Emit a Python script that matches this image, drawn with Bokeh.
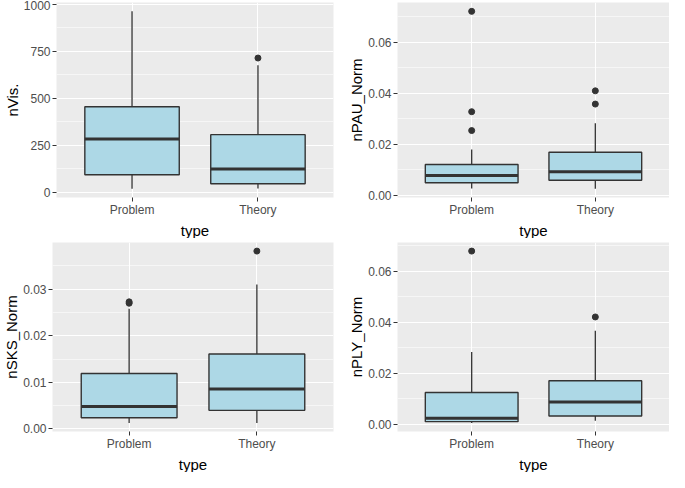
from bokeh.plotting import figure
from bokeh.layouts import row, column
from bokeh.models import (FactorRange, Range1d, FixedTicker, ColumnDataSource,
                          CustomJSTickFormatter, Title)
from bokeh.transform import dodge
from bokeh.embed import file_html
from bokeh.resources import INLINE

cats = ["Problem", "Theory"]
x_title = "type"

nvis_lower = [19, 20]
nvis_q1 = [93, 45]
nvis_median = [283, 123]
nvis_q3 = [454, 306]
nvis_upper = [961, 674]
nvis_out_type = ["Theory"]
nvis_out = [713]
nvis_ticks = [0, 250, 500, 750, 1000]
nvis_minor = [125, 375, 625, 875]

pau_lower = [0.0026, 0.0025]
pau_q1 = [0.0048, 0.0058]
pau_median = [0.0077, 0.0091]
pau_q3 = [0.0120, 0.0168]
pau_upper = [0.0179, 0.0282]
pau_out_type = ["Problem", "Problem", "Problem", "Theory", "Theory"]
pau_out = [0.0253, 0.0327, 0.0721, 0.0357, 0.0409]
pau_ticks = [0.0, 0.02, 0.04, 0.06]
pau_minor = [0.01, 0.03, 0.05, 0.07]

sks_lower = [0.0013, 0.0013]
sks_q1 = [0.0024, 0.0040]
sks_median = [0.0048, 0.0086]
sks_q3 = [0.0119, 0.0161]
sks_upper = [0.0258, 0.0310]
sks_out_type = ["Problem", "Problem", "Theory"]
sks_out = [0.0270, 0.0273, 0.0382]
sks_ticks = [0.0, 0.01, 0.02, 0.03]
sks_minor = [0.005, 0.015, 0.025, 0.035]

ply_lower = [0.0006, 0.0014]
ply_q1 = [0.0011, 0.0033]
ply_median = [0.0024, 0.0088]
ply_q3 = [0.0125, 0.0171]
ply_upper = [0.0284, 0.0367]
ply_out_type = ["Problem", "Theory"]
ply_out = [0.0679, 0.0421]
ply_ticks = [0.0, 0.02, 0.04, 0.06]
ply_minor = [0.01, 0.03, 0.05, 0.07]

FONT = "Liberation Sans"
DARK = "#333333"


def panel(ylabel, lower, q1, med, q3, upper, out_t, out_v, ticks, minor, decimals,
          width, height, bl, br, bt, bb):
    lo = min(lower)
    hi = max(upper + out_v)
    pad = (hi - lo) * 0.05
    p = figure(width=width, height=height, x_range=FactorRange(factors=cats, range_padding=0.1),
               y_range=Range1d(lo - pad, hi + pad), output_backend="svg", toolbar_location=None,
               min_border_left=bl, min_border_right=br, min_border_top=bt, min_border_bottom=bb)
    p.background_fill_color = "#EBEBEB"
    p.border_fill_color = "white"
    p.outline_line_color = None
    p.xgrid.grid_line_color = "white"
    p.xgrid.grid_line_width = 1.1
    p.ygrid.grid_line_color = "white"
    p.ygrid.grid_line_width = 1.1
    p.ygrid.minor_grid_line_color = "white"
    p.ygrid.minor_grid_line_width = 0.55
    p.yaxis.ticker = FixedTicker(ticks=ticks, minor_ticks=minor)
    p.yaxis.formatter = CustomJSTickFormatter(code="return tick.toFixed(%d);" % decimals)
    for ax in (p.xaxis[0], p.yaxis[0]):
        ax.axis_line_color = None
        ax.major_tick_line_color = DARK
        ax.major_tick_line_width = 1
        ax.major_tick_out = 4
        ax.major_tick_in = 0
        ax.minor_tick_line_color = None
        ax.major_label_text_font = FONT
        ax.major_label_text_font_size = "12px"
        ax.major_label_text_color = "#4D4D4D"
        ax.axis_label_text_font = FONT
        ax.axis_label_text_font_size = "15px"
        ax.axis_label_text_font_style = "normal"
        ax.axis_label_text_color = "black"
        ax.axis_label_text_line_height = 1.0
    p.xaxis.major_label_standoff = 1
    p.yaxis.major_label_standoff = 2
    p.yaxis.axis_label_standoff = 0
    p.yaxis.axis_label = ylabel
    p.add_layout(Title(text=x_title, align="center", standoff=0, offset=0,
                       text_font=FONT, text_font_size="15px", text_font_style="normal",
                       text_color="black", text_line_height=1.0), "below")

    src = ColumnDataSource(dict(type=cats, lower=lower, q1=q1, med=med, q3=q3, upper=upper))
    p.segment(x0="type", x1="type", y0="q3", y1="upper", source=src, line_color=DARK, line_width=1.3)
    p.segment(x0="type", x1="type", y0="q1", y1="lower", source=src, line_color=DARK, line_width=1.3)
    p.vbar(x="type", top="q3", bottom="q1", width=0.75, source=src, fill_color="#ADD8E6",
           line_color=DARK, line_width=1.4)
    p.segment(x0=dodge("type", -0.375, range=p.x_range), x1=dodge("type", 0.375, range=p.x_range),
              y0="med", y1="med", source=src, line_color=DARK, line_width=3)
    p.scatter(x=out_t, y=out_v, size=6, fill_color=DARK, line_color=DARK)
    return p


p1 = panel("nVis.", nvis_lower, nvis_q1, nvis_median, nvis_q3, nvis_upper, nvis_out_type, nvis_out,
           nvis_ticks, nvis_minor, 0, 338, 238, 46, 5, 2, 10)
p2 = panel("nPAU_Norm", pau_lower, pau_q1, pau_median, pau_q3, pau_upper, pau_out_type, pau_out,
           pau_ticks, pau_minor, 2, 331, 238, 59, 0, 2, 10)
p3 = panel("nSKS_Norm", sks_lower, sks_q1, sks_median, sks_q3, sks_upper, sks_out_type, sks_out,
           sks_ticks, sks_minor, 2, 338, 234, 43, 5, 4, 10)
p4 = panel("nPLY_Norm", ply_lower, ply_q1, ply_median, ply_q3, ply_upper, ply_out_type, ply_out,
           ply_ticks, ply_minor, 2, 331, 234, 59, 0, 4, 10)

layout = column(row(p1, p2), row(p3, p4))
open("out.html", "w").write(file_html(layout, INLINE))
